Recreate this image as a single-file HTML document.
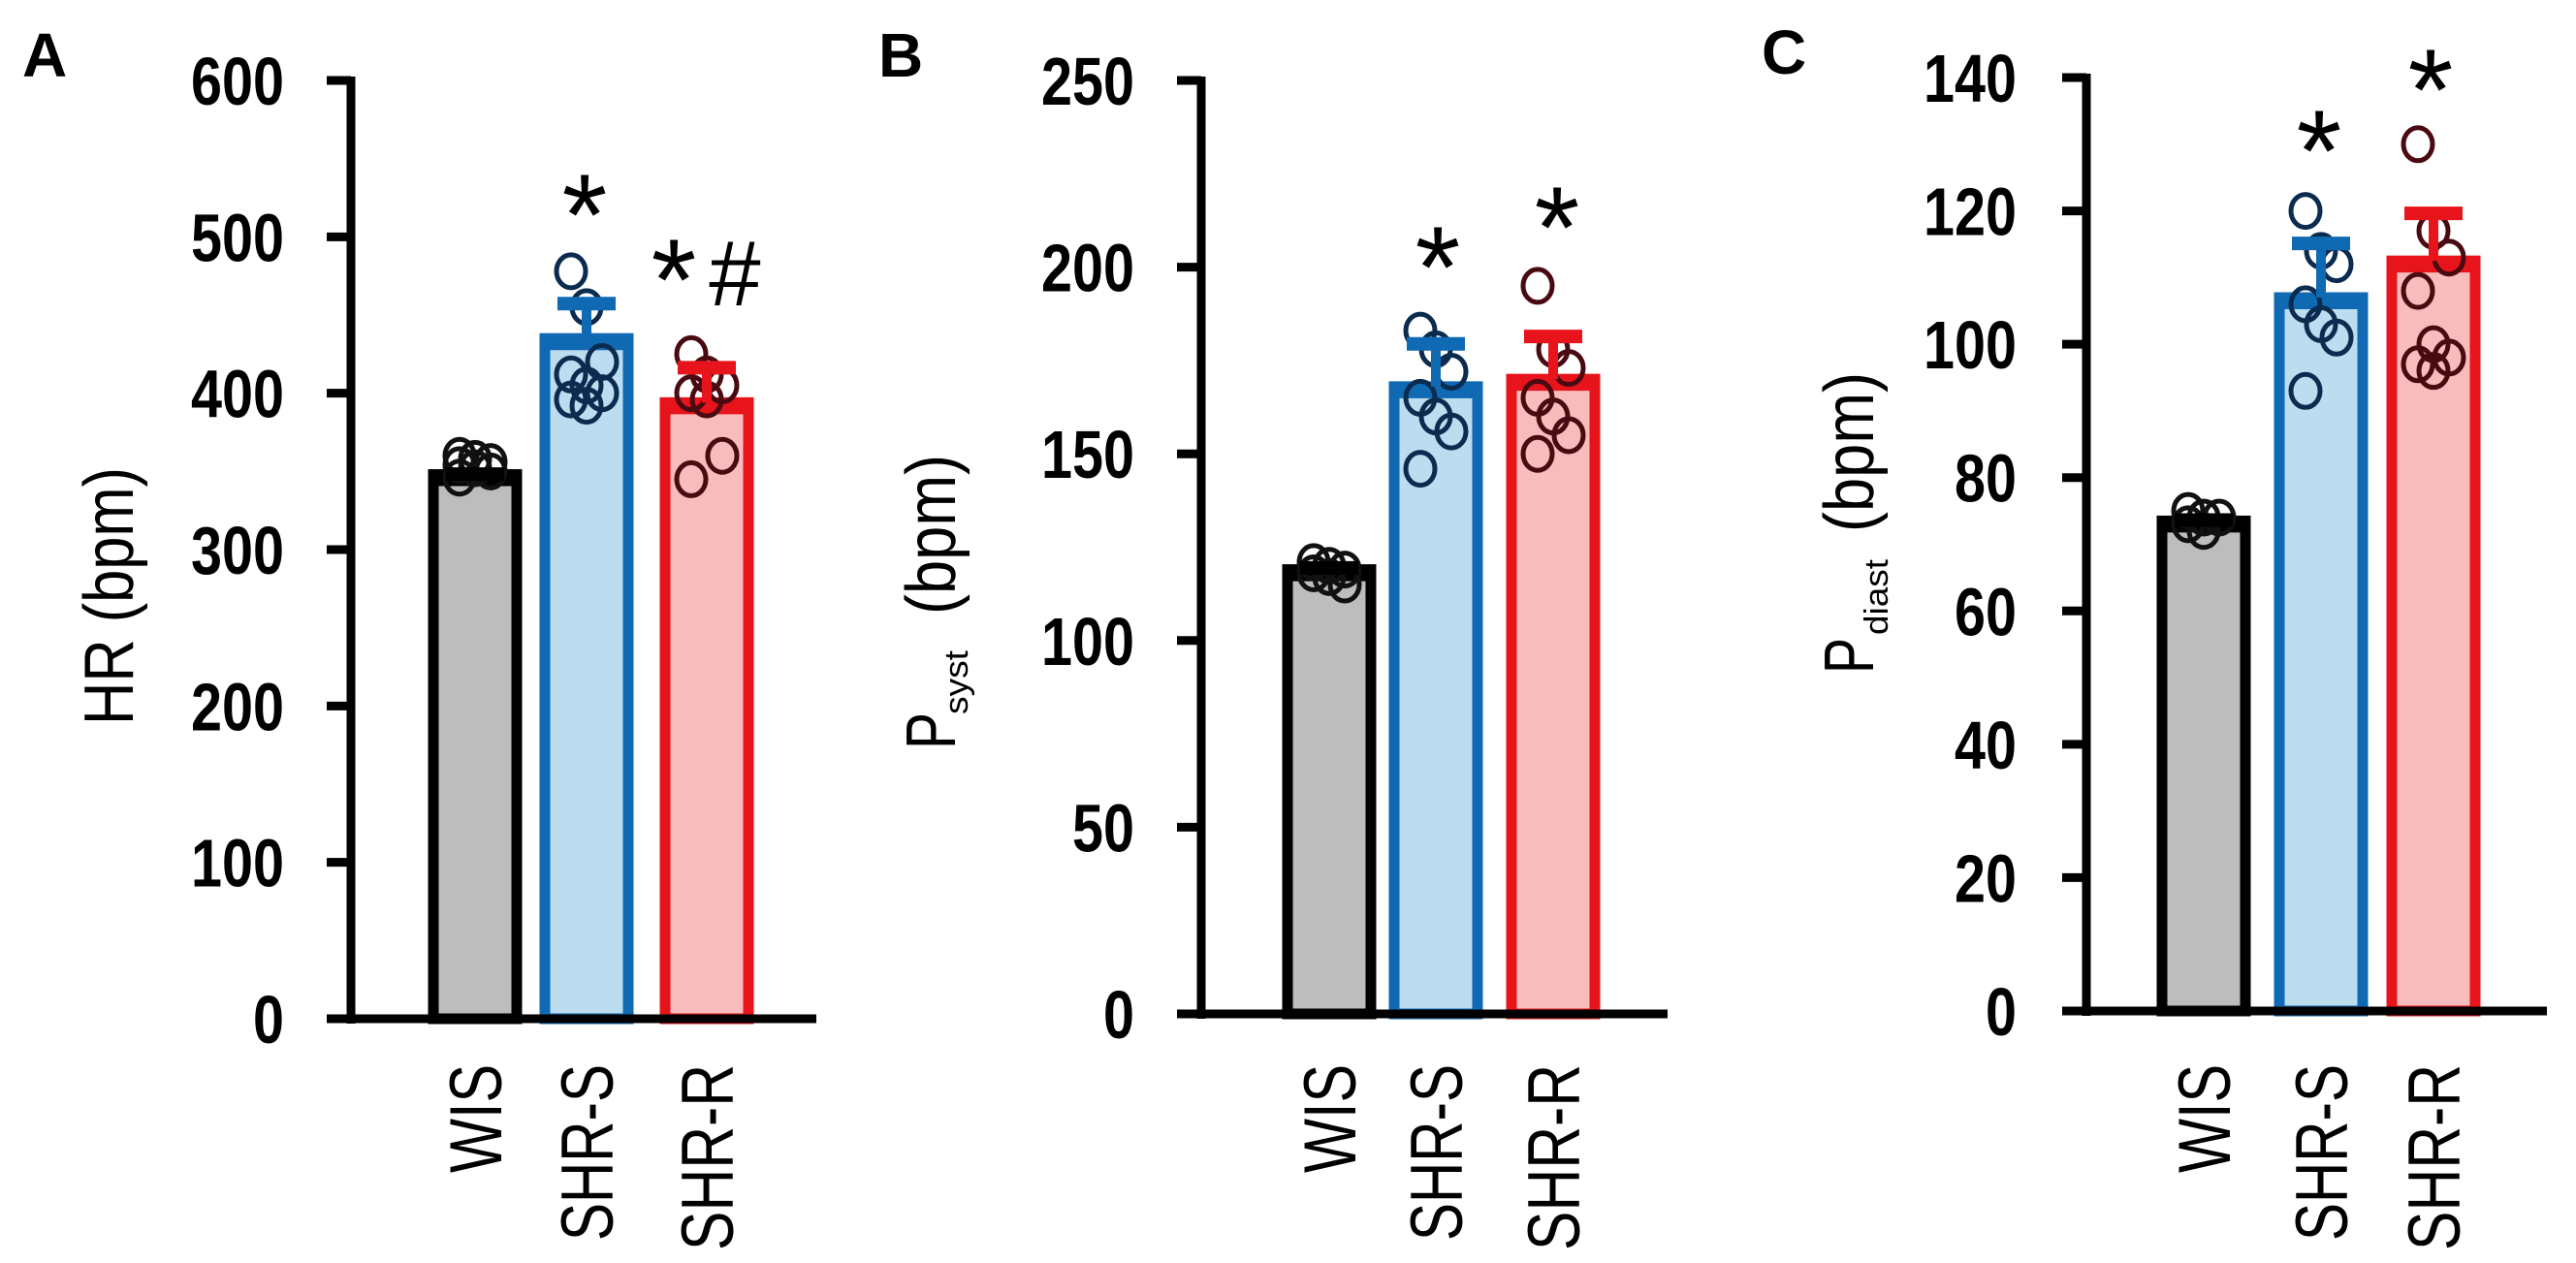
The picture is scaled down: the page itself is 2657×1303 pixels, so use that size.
<!DOCTYPE html>
<html><head><meta charset="utf-8"><style>
html,body{margin:0;padding:0;background:#fff;}
svg{display:block;font-family:"Liberation Sans",Arial,sans-serif;}
</style></head><body>
<svg id="fig" width="2657" height="1303" viewBox="0 0 2657 1303" xmlns="http://www.w3.org/2000/svg">
<rect width="2657" height="1303" fill="#fff"/>
<text x="23" y="79" font-size="64" font-weight="bold">A</text>
<text x="906" y="79" font-size="64" font-weight="bold">B</text>
<text x="1817" y="76" font-size="64" font-weight="bold">C</text>
<g>
<text transform="translate(137,748) rotate(-90)" font-size="72" textLength="266" lengthAdjust="spacingAndGlyphs">HR (bpm)</text>
</g>
<g>
<text transform="translate(985,773) rotate(-90)" font-size="72" textLength="38" lengthAdjust="spacingAndGlyphs">P</text>
<text transform="translate(998,737) rotate(-90)" font-size="34" textLength="66" lengthAdjust="spacingAndGlyphs">syst</text>
<text transform="translate(985,634) rotate(-90)" font-size="72" textLength="165" lengthAdjust="spacingAndGlyphs">(bpm)</text>
</g>
<g>
<text transform="translate(1932,695) rotate(-90)" font-size="72" textLength="37" lengthAdjust="spacingAndGlyphs">P</text>
<text transform="translate(1947,655) rotate(-90)" font-size="34" textLength="78" lengthAdjust="spacingAndGlyphs">diast</text>
<text transform="translate(1932,549) rotate(-90)" font-size="72" textLength="165" lengthAdjust="spacingAndGlyphs">(bpm)</text>
</g>
</svg>
<script>
var NS='http://www.w3.org/2000/svg';
var categories=['WIS','SHR-S','SHR-R'];
var aMeans=[348,435,394];
var aSD=[4,26,26];
var aPtsWIS=[360,358,356,354,352,350,346];
var aPtsS=[478,455,420,412,405,400,396,392];
var aPtsR=[425,412,405,400,396,360,345];
var aTicks=[0,100,200,300,400,500,600];
var bMeans=[119,168,170];
var bSD=[2,13,13];
var bPtsWIS=[121,120,119,118,117,115];
var bPtsS=[183,178,172,165,160,156,146];
var bPtsR=[195,178,173,165,160,155,150];
var bTicks=[0,50,100,150,200,250];
var cMeans=[73.5,107,112.5];
var cSD=[1,9,8];
var cPtsWIS=[75,74,74,73,72];
var cPtsS=[120,114,112,106,103,101,93];
var cPtsR=[130,117,113,108,100,98,97,96];
var cTicks=[0,20,40,60,80,100,120,140];
var aSig=['*','*#'];
var bSig=['*','*'];
var cSig=['*','*'];

var fills=['#bdbdbd','#bcdcf0','#f9bcbc'];
var strokes=['#000','#1069b3','#e8141b'];
var ptCols=['#111','#0b2b4f','#4a0a12'];
var svg=document.getElementById('fig');
function mk(tag,attrs,parent){var e=document.createElementNS(NS,tag);for(var k in attrs)e.setAttribute(k,attrs[k]);(parent||svg).appendChild(e);return e;}

function panel(id,cfg,means,sds,pts,ticks,sig){
  var g=mk('g',{});
  
  
  var max=ticks[ticks.length-1];
  function y(v){return cfg.y0-(v/max)*(cfg.y0-cfg.yTop);}
  var bw=97;
  for(var i=0;i<3;i++){
    var cx=cfg.centers[i], top=y(means[i]);
    var r=mk('rect',{x:cx-bw/2+5.5,y:top,width:bw-11,height:cfg.y0-top,fill:fills[i],stroke:strokes[i],'stroke-width':11},g);
    
    
    mk('line',{x1:cx-bw/2,x2:cx+bw/2,y1:top+4,y2:top+4,stroke:strokes[i],'stroke-width':16},g);
  }
  for(var i=0;i<3;i++){
    var arr=pts[i];
    for(var j=0;j<arr.length;j++){
      var off=((j%3)-1)*16;
      var c=mk('ellipse',{cx:cfg.centers[i]+off,cy:y(arr[j]),rx:15,ry:17,fill:'none',stroke:ptCols[i],'stroke-width':5},g);
      
      
    }
  }
  for(var i=0;i<3;i++){
    var cx=cfg.centers[i], t=y(means[i]+sds[i]);
    var e=mk('line',{x1:cx,x2:cx,y1:y(means[i]),y2:t,stroke:strokes[i],'stroke-width':10},g);
    
    
    mk('line',{x1:cx-30,x2:cx+30,y1:t+6,y2:t+6,stroke:strokes[i],'stroke-width':14},g);
  }
  var ya=mk('line',{x1:cfg.ax,x2:cfg.ax,y1:cfg.yTop-4,y2:cfg.y0+5,stroke:'#000','stroke-width':9},g);
  
  
  var xa=mk('line',{x1:cfg.xl,x2:cfg.xr,y1:cfg.y0,y2:cfg.y0,stroke:'#000','stroke-width':9},g);
  
  
  for(var k=0;k<ticks.length;k++){
    var ty=y(ticks[k]);
    mk('line',{x1:cfg.ax-25,x2:cfg.ax,y1:ty,y2:ty,stroke:'#000','stroke-width':9},g);
    var s=String(ticks[k]);
    var t=mk('text',{x:cfg.lr,y:ty+25,'text-anchor':'end','font-size':70,'font-weight':'bold',textLength:s.length*32,lengthAdjust:'spacingAndGlyphs'},g);
    t.textContent=s;
    
    
  }
  var lens=[112,182,192];
  for(var i=0;i<3;i++){
    var cx=cfg.centers[i];
    var t=mk('text',{transform:'translate('+(cx+27)+',1098) rotate(-90)','text-anchor':'end','font-size':76,textLength:lens[i],lengthAdjust:'spacingAndGlyphs'},g);
    t.textContent=categories[i];
    
    
  }
  for(var i=0;i<sig.length;i++){
    var p=cfg.sig[i];
    var st=mk('text',{x:p[0],y:p[1]+68,'text-anchor':'middle','font-size':120},g);
    st.textContent='*';
    
    
    if(sig[i].indexOf('#')>=0){
      var h=mk('text',{x:p[0]+63,y:p[1]+53,'text-anchor':'middle','font-size':96},g);
      h.textContent='#';
      
      
    }
  }
}
panel('a',{ax:362,y0:1051,yTop:83,xl:339,xr:842,lr:293,centers:[490,605,729],sig:[[603,195],[695,262]]},aMeans,aSD,[aPtsWIS,aPtsS,aPtsR],aTicks,aSig);
panel('b',{ax:1239,y0:1046,yTop:83,xl:1217,xr:1720,lr:1170,centers:[1371,1481,1602],sig:[[1483,249],[1606,208]]},bMeans,bSD,[bPtsWIS,bPtsS,bPtsR],bTicks,bSig);
panel('c',{ax:2152,y0:1043,yTop:80,xl:2127,xr:2627,lr:2080,centers:[2273,2394,2510],sig:[[2392,129],[2507,66]]},cMeans,cSD,[cPtsWIS,cPtsS,cPtsR],cTicks,cSig);
</script>
</body></html>
